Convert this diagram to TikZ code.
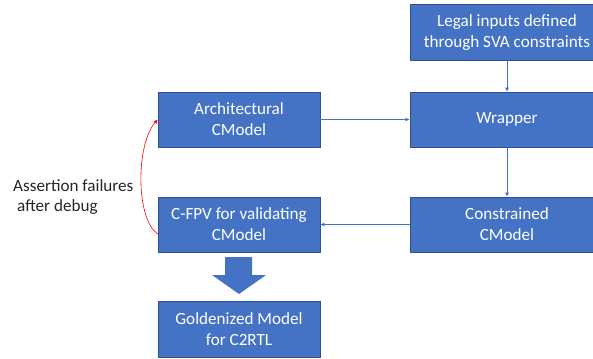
\documentclass[tikz,border=0pt]{standalone}
\usepackage{fontspec}
\setmainfont{Carlito}
\usetikzlibrary{arrows.meta}
\definecolor{boxblue}{HTML}{4472C4}
\definecolor{boxedge}{HTML}{2F528F}
\begin{document}
\begin{tikzpicture}[
                x = 1bp, y = -1bp,
                box/.style = {draw = boxedge, line width = 0.6bp, fill = boxblue, text = white, align = center,
                              inner sep = 0mm, font = \fontsize{17.2}{21}\selectfont},
                arr/.style = {draw = boxblue, line width = 0.8bp, -{Latex[length = 4bp, width = 4bp]}},
                fb/.style = {draw = red, line width = 0.6bp, -{Latex[length = 4bp, width = 4bp]}},
                note/.style = {align = left, inner sep = 0mm, text = black!85, font = \fontsize{17.2}{21}\selectfont},
            ]
            \useasboundingbox (0,0) rectangle (593,358);

            \node (LEG) [box, minimum width = 194bp, minimum height = 56bp] at (507, 32.5) {Legal inputs defined\\through SVA constraints};
            \node (WRAP) [box, minimum width = 194bp, minimum height = 55bp] at (507, 119.5) {Wrapper};
            \node (CONS) [box, minimum width = 194bp, minimum height = 55bp] at (507, 224.5) {Constrained\\CModel};

            \node (ARCH) [box, minimum width = 162bp, minimum height = 55bp] at (239, 119.5) {Architectural\\CModel};
            \node (FPV) [box, minimum width = 162bp, minimum height = 55bp] at (239, 224.5) {C-FPV for validating\\CModel};
            \node (GOLD) [box, minimum width = 162bp, minimum height = 56bp] at (239, 329) {Goldenized Model\\for C2RTL};

            \node (NOTE) [note, anchor = west] at (13, 197) {Assertion failures\\\hspace{4bp}after debug};

            \path[arr] (LEG) -- (WRAP);
            \path[arr] (ARCH) -- (WRAP);
            \path[arr] (WRAP) -- (CONS);
            \path[arr] (CONS) -- (FPV);

            \path[fb] ([yshift = -9.5bp]FPV.west) .. controls +(-22,-15) and +(-22,25) .. (ARCH.west);

            % big down arrow
            \fill[boxblue] (225,257) -- (252,257) -- (252,275) -- (266,275) -- (239,294)
                -- (212,275) -- (225,275) -- cycle;
        \end{tikzpicture}
\end{document}
